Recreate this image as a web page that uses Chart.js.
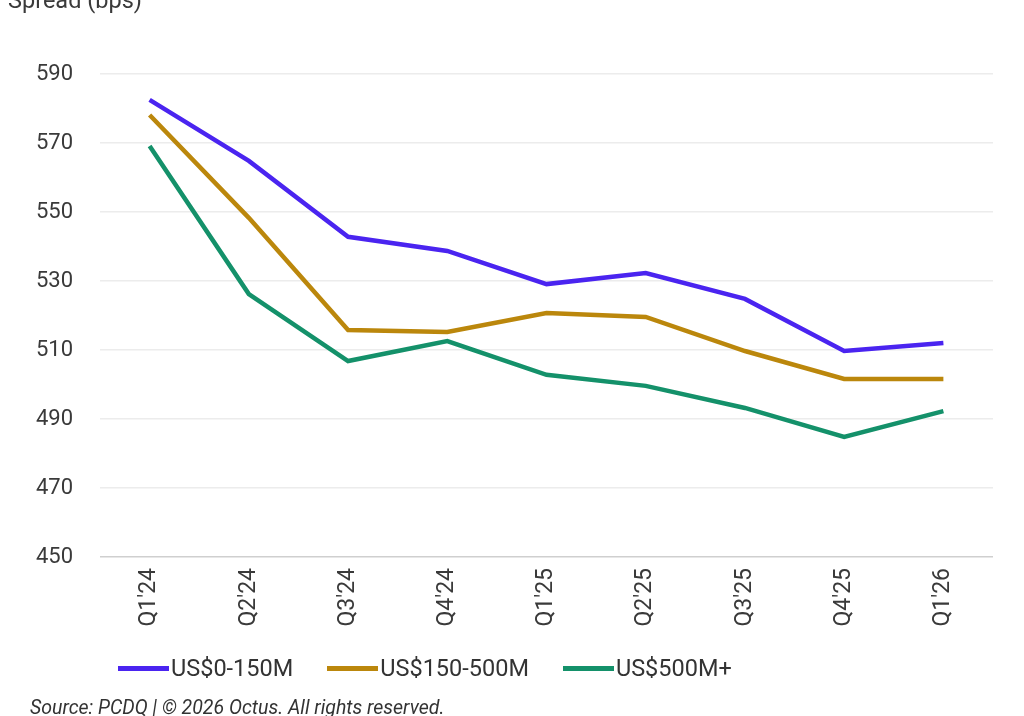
<!DOCTYPE html>
<html>
<head>
<meta charset="utf-8">
<script src="https://cdn.jsdelivr.net/npm/chart.js@4.4.1/dist/chart.umd.min.js"></script>
<style>
  html, body { margin: 0; padding: 0; background: #fff; }
  #wrap { position: relative; width: 1024px; height: 716px; overflow: hidden; font-family: Roboto, "Liberation Sans", sans-serif; }
  #yTitle { position: absolute; left: 8px; top: -14px; font-size: 23.5px; color: #3a3a3a; }
  #legend { position: absolute; left: 118px; top: 654px; display: flex; font-size: 23.5px; color: #333; }
  #legend .item { display: flex; align-items: center; margin-right: 34px; }
  #legend .swatch { width: 51px; height: 5px; margin-right: 2px; }
  #source { position: absolute; left: 30px; top: 696px; font-size: 19.5px; font-style: italic; color: #333; }
</style>
</head>
<body>
<div id="wrap">
  <canvas id="spreadChart" width="1024" height="716"></canvas>
  <div id="yTitle">Spread (bps)</div>
  <div id="legend"></div>
  <div id="source">Source: PCDQ | © 2026 Octus. All rights reserved.</div>
</div>
<script>
// Datos del gráfico
const quarters = ["Q1'24", "Q2'24", "Q3'24", "Q4'24", "Q1'25", "Q2'25", "Q3'25", "Q4'25", "Q1'26"];
const small = [582.5, 564.8, 542.8, 538.7, 529.1, 532.3, 524.8, 509.7, 512.0];
const mid = [578.1, 548.3, 515.8, 515.2, 520.7, 519.6, 509.7, 501.6, 501.6];
const large = [569.1, 526.2, 506.8, 512.6, 502.8, 499.6, 493.2, 484.8, 492.3];
const seriesNames = ["US$0-150M", "US$150-500M", "US$500M+"];
const seriesColors = ["#4a24f0", "#bb870c", "#14916a"];

document.addEventListener("DOMContentLoaded", function() {
    const seriesData = [small, mid, large];

    const datasets = seriesData.map((values, i) => ({
        label: seriesNames[i],
        data: values,
        borderColor: seriesColors[i],
        backgroundColor: seriesColors[i],
        borderWidth: 4.5,
        pointRadius: 0,
        tension: 0,
        fill: false
    }));

    // Leyenda en HTML, pegada a la línea como en el original
    const legend = document.getElementById("legend");
    seriesNames.forEach((name, i) => {
        const item = document.createElement("div");
        item.className = "item";
        const sw = document.createElement("span");
        sw.className = "swatch";
        sw.style.background = seriesColors[i];
        const txt = document.createElement("span");
        txt.textContent = name;
        item.appendChild(sw);
        item.appendChild(txt);
        legend.appendChild(item);
    });

    const ctx = document.getElementById("spreadChart").getContext("2d");
    new Chart(ctx, {
        type: "line",
        data: { labels: quarters, datasets: datasets },
        options: {
            responsive: false,
            animation: false,
            layout: { padding: { top: 74, right: 31, left: 0, bottom: 0 } },
            plugins: { legend: { display: false }, tooltip: { enabled: false } },
            scales: {
                x: {
                    offset: true,
                    grid: { display: false, drawTicks: false },
                    border: { display: false },
                    ticks: {
                        minRotation: 90,
                        maxRotation: 90,
                        padding: 11,
                        color: "#3a3a3a",
                        font: { family: "Roboto", size: 23 }
                    },
                    afterFit: (s) => { s.height = 159; }
                },
                y: {
                    min: 450,
                    max: 590,
                    ticks: {
                        stepSize: 20,
                        padding: 27,
                        color: "#3a3a3a",
                        font: { family: "Roboto", size: 22 }
                    },
                    grid: {
                        drawTicks: false,
                        color: (c) => c.tick && c.tick.value === 450 ? "#cfcfcf" : "#ececec",
                        lineWidth: 1.5
                    },
                    border: { display: false },
                    afterFit: (s) => { s.width = 100; }
                }
            }
        }
    });
});
</script>
</body>
</html>
